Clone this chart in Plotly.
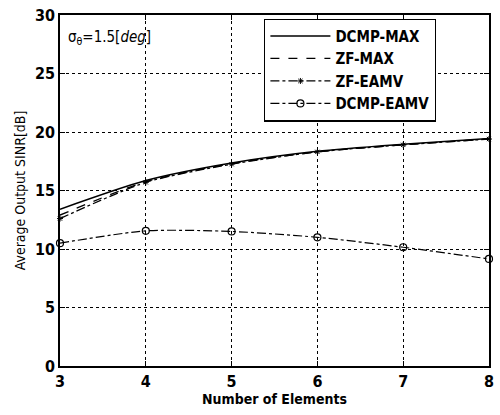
import plotly.graph_objects as go

elements = [3, 4, 5, 6, 7, 8]
dcmp_max = [13.4, 15.85, 17.35, 18.35, 18.95, 19.45]
zf_max = [12.9, 15.75, 17.3, 18.3, 18.9, 19.4]
zf_eamv = [12.6, 15.7, 17.25, 18.3, 18.9, 19.4]
dcmp_eamv = [10.5, 11.55, 11.5, 11.0, 10.15, 9.15]

FONT = "DejaVu Sans Condensed, Liberation Sans Narrow, Arial Narrow, sans-serif"

fig = go.Figure()
fig.add_trace(go.Scatter(x=elements, y=dcmp_max, name="DCMP-MAX", mode="lines",
                         line=dict(color="black", width=1.5, dash="solid", shape="spline", smoothing=0.7)))
fig.add_trace(go.Scatter(x=elements, y=zf_max, name="ZF-MAX", mode="lines",
                         line=dict(color="black", width=1.3, dash="dash", shape="spline", smoothing=0.7)))
fig.add_trace(go.Scatter(x=elements, y=zf_eamv, name="ZF-EAMV", mode="lines+markers",
                         line=dict(color="black", width=1.3, dash="dashdot", shape="spline", smoothing=0.7),
                         marker=dict(symbol="asterisk-open", size=5, color="black",
                                     line=dict(color="black", width=1)),
                         cliponaxis=False))
fig.add_trace(go.Scatter(x=elements, y=dcmp_eamv, name="DCMP-EAMV", mode="lines+markers",
                         line=dict(color="black", width=1.2, dash="dashdot", shape="spline", smoothing=0.7),
                         marker=dict(symbol="circle-open", size=7, color="black",
                                     line=dict(color="black", width=1.2)),
                         cliponaxis=False))

axis_common = dict(
    showline=True, linecolor="black", linewidth=1.5, mirror="ticks",
    ticks="inside", ticklen=5, tickcolor="black", tickwidth=1,
    showgrid=True, gridcolor="black", gridwidth=1, griddash="dot",
    zeroline=False,
    tickfont=dict(family=FONT, size=16, color="black", weight="bold"),
)

fig.update_layout(
    width=500, height=415,
    margin=dict(l=60, r=6, t=15, b=49),
    paper_bgcolor="white", plot_bgcolor="white",
    font=dict(family=FONT, color="black"),
    showlegend=True,
    legend=dict(x=0.476, y=0.99, xanchor="left", yanchor="top",
                bgcolor="white", bordercolor="black", borderwidth=1.2,
                font=dict(family=FONT, size=15, color="black", weight="bold"),
                itemwidth=60, tracegroupgap=0),
    xaxis=dict(range=[3, 8], dtick=1,
               title=dict(text="Number of Elements", standoff=4,
                          font=dict(family=FONT, size=14, color="black", weight="bold")),
               **axis_common),
    yaxis=dict(range=[0, 30], dtick=5,
               title=dict(text="Average Output SINR[dB]", standoff=6,
                          font=dict(family=FONT, size=14, color="black")),
               **axis_common),
    annotations=[dict(x=0.015, y=0.97, xref="paper", yref="paper",
                      xanchor="left", yanchor="top", showarrow=False,
                      text="σ<sub>θ</sub>=1.5[<i>deg</i>]",
                      font=dict(family=FONT, size=15, color="black"))],
)

fig.write_html("out.html", config={"displayModeBar": False},
               post_script="document.body.style.margin='0';document.body.style.padding='0';")
